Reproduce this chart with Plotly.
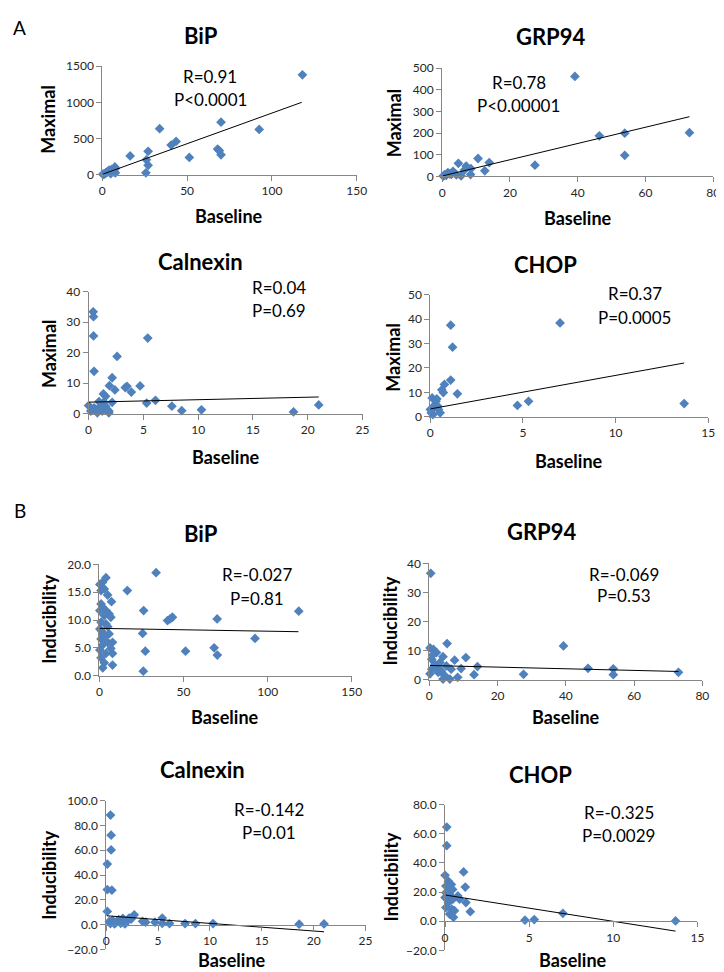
import plotly.graph_objects as go

W, H = 724, 972

# ---------------- data ----------------
# Panel A: Maximal vs Baseline
bip_a_x = [118, 70, 92.5, 33.8, 43.5, 40.6, 16.4, 27, 26, 27, 51.3, 68, 69, 70, 25.7,
           7.7, 7, 4, 2, 1, 5, 6, 3, 7.4, 7.7, 0.5, 1.5, 2.5, 3.5, 5.5, 0.3, 4.5, 6.5]
bip_a_y = [1380, 725, 625, 634, 458, 408, 258, 322, 204, 127, 236, 353, 330, 272, 23,
           82, 36, 60, 23, 5, 14, 50, 36, 104, 23, 2, 10, 30, 45, 70, 4, 25, 40]
bip_a_trend_x = [0.3, 117.6]
bip_a_trend_y = [5, 1000]

grp_a_x = [39.2, 46.4, 53.9, 53.9, 73, 27.4, 13.9, 12.6, 10.6, 8.5, 7.1, 4.8, 8.4,
           3.2, 1.7, 0.8, 0.3, 4.2, 5.6, 6.6, 2.2, 3.5, 1.2, 2.7, 0.5]
grp_a_y = [462, 188, 200, 98, 202, 52, 64, 26, 83, 36, 48, 61, 9,
           24, 18, 8, 2, 8, 3, 30, 12, 18, 5, 10, 4]
grp_a_trend_x = [0.2, 73]
grp_a_trend_y = [3, 276]

cal_a_x = [0.42, 0.45, 0.45, 0.5, 5.4, 2.6, 2.15, 1.9, 2.4, 3.35, 3.5, 3.9, 4.7, 1.35,
           1.55, 5.3, 6.1, 7.6, 8.5, 10.3, 18.7, 21, 2.15,
           0.0, 0.2, 0.5, 0.8, 1.1, 1.25, 1.4, 1.7, 1.85, 0.95, 0.65, 1.55, 1.85]
cal_a_y = [33.4, 31.8, 25.5, 13.9, 24.8, 18.8, 11.8, 9.2, 7.8, 8.6, 9.0, 7.1, 9.1, 6.5,
           5.7, 3.5, 4.4, 2.5, 1.0, 1.3, 0.6, 2.9, 3.75,
           2.7, 0.9, 1.9, 0.3, 2.5, 0.9, 3.8, 1.4, 0.3, 4.0, 1.4, 2.5, 0.9]
cal_a_trend_x = [0.05, 21]
cal_a_trend_y = [3.8, 5.5]

chop_a_x = [1.1, 7.0, 1.2, 1.1, 1.46, 0.76, 0.62, 0.7, 4.7, 5.3, 13.7,
            0.1, 0.35, 0.18, 0.05, 0.26, 0.44, 0.53, 0.14, 0.3, 0.0, 0.4]
chop_a_y = [37.5, 38.4, 28.5, 15.0, 9.4, 13.2, 11.0, 9.9, 4.6, 6.3, 5.4,
            7.7, 7.3, 3.6, 1.6, 5.0, 3.0, 1.6, 0.9, 6.3, 3.0, 4.3]
chop_a_trend_x = [0.0, 13.7]
chop_a_trend_y = [3.2, 22.0]

# Panel B: Inducibility vs Baseline
bip_b_x = [33.7, 118.5, 70, 16.6, 26.3, 40.5, 43.4, 42, 25.7, 27.3, 51.2, 68.2, 70.1, 92.5, 26.1,
           3.9, 1.9, 0.3, 2.9, 1.0, 4.9, 7.2, 1.0, 1.9, 0.3, 3.9, 5.8, 2.9, 6.8, 1.0, 3.9, 0.3,
           1.9, 5.8, 1.0, 4.9, 7.8, 1.9, 6.8, 0.3, 3.9, 7.8, 1.0, 2.9, 7.8, 2.0, 1.5, 5.0, 3.0]
bip_b_y = [18.5, 11.6, 10.2, 15.3, 11.7, 9.9, 10.5, 10.2, 7.6, 4.4, 4.4, 5.0, 3.7, 6.7, 0.8,
           17.6, 16.8, 16.4, 15.6, 15.3, 14.5, 13.3, 12.9, 12.3, 11.7, 11.7, 11.1, 10.8, 10.5, 9.6, 9.3, 8.4,
           7.5, 7.5, 6.6, 6.0, 6.0, 5.5, 4.9, 4.6, 4.0, 4.0, 3.2, 2.3, 1.9, 1.4, 8.0, 8.8, 7.0]
bip_b_trend_x = [0.3, 118.3]
bip_b_trend_y = [8.5, 7.9]

grp_b_x = [0.4, 39.3, 46.5, 53.9, 53.9, 73, 27.6,
           0.2, 1.2, 2.1, 5.2, 4.0, 7.4, 10.7, 14.1, 13.1, 8.3, 9.3,
           0.7, 1.6, 3.1, 5.0, 0.7, 2.6, 4.5, 6.0, 4.0, 0.2, 6.4, 2.1, 1.0, 3.5]
grp_b_y = [36.6, 11.6, 3.9, 3.7, 1.7, 2.5, 1.8,
           10.9, 10.4, 9.3, 12.4, 7.9, 6.7, 7.6, 4.5, 1.7, 0.8, 3.8,
           7.0, 5.3, 5.9, 4.7, 3.6, 2.5, 1.4, 0.2, 0.2, 2.0, 3.6, 4.2, 8.5, 3.0]
grp_b_trend_x = [0.2, 73]
grp_b_trend_y = [4.85, 2.8]

cal_b_x = [0.41, 0.47, 0.47, 0.1, 0.1, 0.54, 0.1, 2.7, 2.2, 5.4, 3.5, 3.8, 4.7, 5.4, 6.1,
           7.6, 8.6, 10.3, 18.6, 21,
           0.3, 0.6, 0.9, 1.2, 1.5, 1.8, 2.0, 2.4, 0.4, 0.8, 1.4, 1.9, 1.1, 1.6]
cal_b_y = [88.4, 72.2, 60.3, 48.9, 28.3, 27.8, 10.6, 7.9, 5.3, 5.3, 2.6, 1.9, 1.9, 1.0, 0.8,
           0.8, 0.8, 0.8, 0.3, 0.5,
           2.5, 3.5, 1.5, 4.0, 2.0, 0.5, 3.0, 4.5, 0.8, 0.5, 1.0, 2.2, 3.0, 5.0]
cal_b_trend_x = [0.05, 21]
cal_b_trend_y = [7.1, -5.8]

chop_b_x = [0.1, 0.1, 1.1, 1.2, 1.5, 0.0, 0.2, 0.05, 0.37, 0.05, 0.76, 0.86, 1.24, 0.47,
            0.2, 0.05, 0.4, 0.27, 0.5, 0.56, 0.0, 0.27, 0.45, 0.2, 4.75, 5.3, 7.0, 13.7]
chop_b_y = [64.6, 51.8, 33.8, 23.4, 6.5, 31.5, 27.4, 24.1, 25.2, 19.6, 17.3, 15.1, 12.8, 15.1,
            12.8, 9.4, 8.3, 4.9, 2.7, 7.2, 16.2, 18.5, 21.8, 21.8, 0.7, 1.1, 5.4, 0.2]
chop_b_trend_x = [0.05, 13.7]
chop_b_trend_y = [17.9, -6.8]

titles = ["BiP", "GRP94", "Calnexin", "CHOP", "BiP", "GRP94", "Calnexin", "CHOP"]
stats_r = ["R=0.91", "R=0.78", "R=0.04", "R=0.37", "R=-0.027", "R=-0.069", "R=-0.142", "R=-0.325"]
stats_p = ["P&lt;0.0001", "P&lt;0.00001", "P=0.69", "P=0.0005", "P=0.81", "P=0.53", "P=0.01", "P=0.0029"]
y_titles = ["Maximal"] * 4 + ["Inducibility"] * 4
x_title = "Baseline"

x_ranges = [[0, 150], [0, 80], [0, 25], [0, 15], [0, 150], [0, 80], [0, 25], [0, 15]]
x_dticks = [50, 20, 5, 5, 50, 20, 5, 5]
y_ranges = [[0, 1500], [0, 500], [0, 40], [0, 50], [0, 20], [0, 40], [-20, 100], [-20, 80]]
y_dticks = [500, 100, 10, 10, 5, 10, 20, 20]
y_formats = ["d", "d", "d", "d", ".1f", "d", ".1f", ".1f"]

series = [
    (bip_a_x, bip_a_y, bip_a_trend_x, bip_a_trend_y),
    (grp_a_x, grp_a_y, grp_a_trend_x, grp_a_trend_y),
    (cal_a_x, cal_a_y, cal_a_trend_x, cal_a_trend_y),
    (chop_a_x, chop_a_y, chop_a_trend_x, chop_a_trend_y),
    (bip_b_x, bip_b_y, bip_b_trend_x, bip_b_trend_y),
    (grp_b_x, grp_b_y, grp_b_trend_x, grp_b_trend_y),
    (cal_b_x, cal_b_y, cal_b_trend_x, cal_b_trend_y),
    (chop_b_x, chop_b_y, chop_b_trend_x, chop_b_trend_y),
]

# ---------------- layout geometry (pixels) ----------------
plot_boxes = [  # x0, x1, ytop, ybottom
    (93, 352, 51, 161), (439, 715, 53, 163),
    (79, 358, 280, 404), (427, 710, 283, 407),
    (90, 347, 557, 670), (426, 704, 556, 674),
    (97, 361, 797, 948), (442, 699, 801, 949),
]
title_pos = [(193, 20), (549, 21), (193, 249), (544, 252),
             (193, 526), (540, 524), (195, 765), (539, 770)]
r_pos = [(203, 61), (517, 68), (273, 276), (635, 282),
         (250, 567), (624, 567), (263, 806), (619, 809)]
p_pos = [(203, 85), (517, 91), (273, 299), (635, 306),
         (250, 592), (624, 589), (263, 829), (619, 832)]
ytitle_pos = [(38, 105), (390, 108), (38, 343), (389, 347),
              (38, 613), (385, 615), (38, 873), (387, 875)]
xtitle_pos = [(222, 203), (577, 205), (219, 448), (568, 452),
              (218, 712), (565, 712), (225, 959), (572, 959)]

FONT = "Lato"
AXC = "#868686"
BLUE = "#4F81BD"


def px(x):
    return x / W


def py(y):
    return 1 - y / H


fig = go.Figure()
annotations = []
layout = {}

for i in range(8):
    n = "" if i == 0 else str(i + 1)
    xs, ys, tx, ty = series[i]
    fig.add_trace(go.Scatter(x=xs, y=ys, mode="markers", xaxis="x" + n, yaxis="y" + n,
                             marker=dict(symbol="diamond", size=7.5, color=BLUE, line=dict(width=0)),
                             cliponaxis=False, showlegend=False, hoverinfo="x+y"))
    fig.add_trace(go.Scatter(x=tx, y=ty, mode="lines", xaxis="x" + n, yaxis="y" + n,
                             line=dict(color="black", width=1), cliponaxis=False,
                             showlegend=False, hoverinfo="skip"))
    x0, x1, yt, yb = plot_boxes[i]
    xa = dict(domain=[px(x0), px(x1)], range=x_ranges[i], dtick=x_dticks[i], tick0=0,
              showline=True, linecolor=AXC, linewidth=1, ticks="outside", ticklen=5,
              tickcolor=AXC, showgrid=False, zeroline=False,
              tickfont=dict(family=FONT, size=12, color="#262626"))
    ya = dict(domain=[py(yb), py(yt)], range=y_ranges[i], dtick=y_dticks[i], tick0=0,
              tickformat=y_formats[i],
              showline=True, linecolor=AXC, linewidth=1, ticks="outside", ticklen=5,
              tickcolor=AXC, showgrid=False, zeroline=False,
              tickfont=dict(family=FONT, size=12, color="#262626"),
              anchor="x" + n)
    if y_ranges[i][0] < 0:
        # x axis crosses at y = 0
        ylo, yhi = y_ranges[i]
        frac = (0 - ylo) / (yhi - ylo)
        pos = py(yb) + frac * (py(yt) - py(yb))
        xa.update(anchor="free", position=pos)
    else:
        xa.update(anchor="y" + n)
    layout["xaxis" + n] = xa
    layout["yaxis" + n] = ya

    annotations.append(dict(text="<b>%s</b>" % titles[i], x=px(title_pos[i][0]), y=py(title_pos[i][1]),
                            font=dict(family=FONT, size=22, color="black")))
    annotations.append(dict(text=stats_r[i], x=px(r_pos[i][0]), y=py(r_pos[i][1]),
                            font=dict(family=FONT, size=17, color="black")))
    annotations.append(dict(text=stats_p[i], x=px(p_pos[i][0]), y=py(p_pos[i][1]),
                            font=dict(family=FONT, size=17, color="black")))
    annotations.append(dict(text="<b>%s</b>" % y_titles[i], x=px(ytitle_pos[i][0]), y=py(ytitle_pos[i][1]),
                            textangle=-90, font=dict(family=FONT, size=18, color="black")))
    annotations.append(dict(text="<b>%s</b>" % x_title, x=px(xtitle_pos[i][0]), y=py(xtitle_pos[i][1]),
                            font=dict(family=FONT, size=18, color="black")))

annotations.append(dict(text="A", x=px(9), y=py(12), font=dict(family=FONT, size=19, color="black")))
annotations.append(dict(text="B", x=px(9), y=py(502), font=dict(family=FONT, size=19, color="black")))

for a in annotations:
    a.update(xref="paper", yref="paper", showarrow=False, xanchor="center", yanchor="middle")

fig.update_layout(width=W, height=H, margin=dict(l=0, r=0, t=0, b=0),
                  paper_bgcolor="white", plot_bgcolor="white",
                  annotations=annotations, showlegend=False, **layout)

fig.write_html("out.html")
